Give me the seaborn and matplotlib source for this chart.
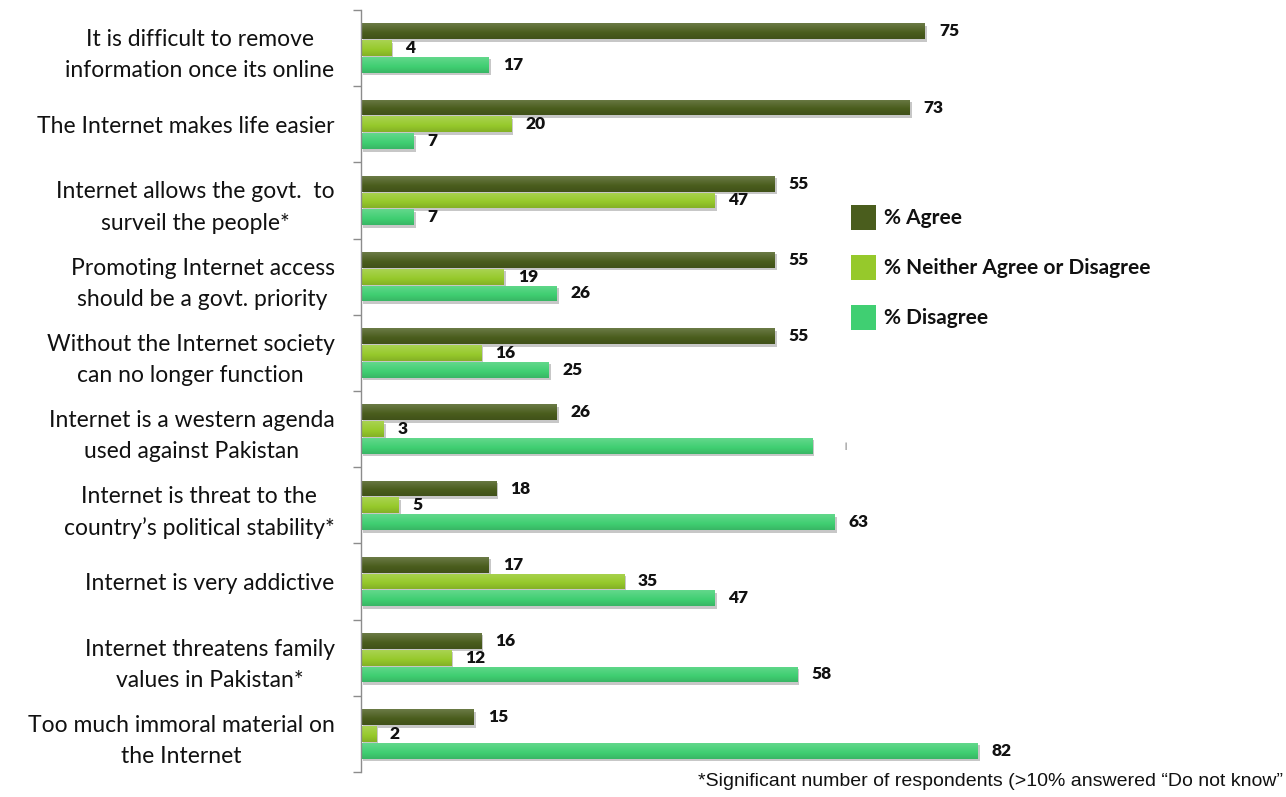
import matplotlib
matplotlib.use("Agg")
import matplotlib.pyplot as plt
import matplotlib.patheffects as pe
from matplotlib import font_manager
from matplotlib.colors import to_rgb
from matplotlib.patches import Rectangle
import numpy as np
import seaborn as sns
import pandas as pd

statements = [
    "It is difficult to remove\ninformation once its online",
    "The Internet makes life easier",
    "Internet allows the govt.  to\nsurveil the people*",
    "Promoting Internet access\nshould be a govt. priority",
    "Without the Internet society\ncan no longer function",
    "Internet is a western agenda\nused against Pakistan",
    "Internet is threat to the\ncountry\u2019s political stability*",
    "Internet is very addictive",
    "Internet threatens family\nvalues in Pakistan*",
    "Too much immoral material on\nthe Internet",
]
series_names = ["% Agree", "% Neither Agree or Disagree", "% Disagree"]
agree = [75, 73, 55, 55, 55, 26, 18, 17, 16, 15]
neither = [4, 20, 47, 19, 16, 3, 5, 35, 12, 2]
disagree = [17, 7, 7, 26, 25, 60, 63, 47, 58, 82]
# the value of the western-agenda "Disagree" bar has no printed label
disagree_labels = ["17", "7", "7", "26", "25", "", "63", "47", "58", "82"]
footnote = "*Significant number of respondents (>10% answered \u201cDo not know\u201d"

colors = ["#4a5d1d", "#96c92b", "#40cf72"]

df = pd.DataFrame({
    "statement": statements * 3,
    "series": sum([[s] * len(statements) for s in series_names], []),
    "value": agree + neither + disagree,
})

available = {f.name for f in font_manager.fontManager.ttflist}
label_font = "Lato" if "Lato" in available else "DejaVu Sans"
narrow_font = "Liberation Sans Narrow" if "Liberation Sans Narrow" in available else "Liberation Sans"

sns.set_theme(style="white")
plt.rcParams["font.family"] = [label_font, "DejaVu Sans"]

W, H = 1286, 797
fig = plt.figure(figsize=(W / 100, H / 100), dpi=100)
ax = fig.add_axes([361 / W, (H - 772) / H, 752 / W, 762 / H])

sns.barplot(data=df, y="statement", x="value", hue="series", order=statements,
            hue_order=series_names, palette=colors, orient="h", width=0.66,
            gap=0.05, ax=ax, legend=False, errorbar=None, saturation=1)


def shade(rgb, f):
    rgb = np.array(rgb)
    return rgb + (1 - rgb) * f if f > 0 else rgb * (1 + f)


shadow = [pe.SimplePatchShadow(offset=(1.5, -1.8), shadow_rgbFace="#000000", alpha=0.22), pe.Normal()]
label_sets = [[str(v) for v in agree], [str(v) for v in neither], disagree_labels]
for container, labels, col in zip(ax.containers, label_sets, colors):
    base = to_rgb(col)
    # soft vertical gradient: lighter top edge, darker bottom edge
    stops = np.linspace(0, 1, 32)
    grad = np.array([shade(base, 0.18 - 0.30 * t) if t < 0.6 else shade(base, -0.12 * (t - 0.6) / 0.4)
                     for t in stops])
    grad = np.clip(grad, 0, 1)[:, None, :]
    for patch, lab in zip(container.patches, labels):
        patch.set_linewidth(0)
        patch.set_path_effects(shadow)
        x0, y0 = patch.get_x(), patch.get_y()
        w, h = patch.get_width(), patch.get_height()
        im = ax.imshow(grad, extent=(x0, x0 + w, y0 + h, y0), aspect="auto",
                       interpolation="bilinear", zorder=patch.get_zorder() + 0.1)
        im.set_clip_path(patch)
        yc = y0 + h / 2
        if lab:
            ax.annotate(lab, (x0 + w, yc), xytext=(10, 0), textcoords="offset points",
                        ha="left", va="center", fontsize=12.5, fontweight="heavy",
                        color="#111111")
        else:
            ax.annotate("|", (x0 + w, yc), xytext=(24, 0), textcoords="offset points",
                        ha="center", va="center", fontsize=6, color="#333333")

ax.set_xlim(0, 100)
ax.set_ylim(len(statements) - 0.5, -0.5)
ax.set_xlabel("")
ax.set_ylabel("")
for side in ["top", "right", "bottom"]:
    ax.spines[side].set_visible(False)
ax.spines["left"].set_color("#8c8c8c")
ax.spines["left"].set_linewidth(1)
ax.set_xticks([])
ax.tick_params(axis="y", which="major", length=0, pad=19, labelsize=16.5, labelcolor="#111111")
ax.set_yticks(range(len(statements)))
ax.set_yticklabels(statements, multialignment="center", linespacing=1.6)
ax.set_yticks([k - 0.5 for k in range(len(statements) + 1)], minor=True)
ax.tick_params(axis="y", which="minor", length=6, color="#8c8c8c", width=1, left=True)

# legend: colour squares with bold captions
for i, (name, col) in enumerate(zip(series_names, colors)):
    top = 205 + 50 * i
    fig.add_artist(Rectangle((851 / W, 1 - (top + 25) / H), 25 / W, 25 / H,
                             transform=fig.transFigure, facecolor=col, edgecolor="none"))
    fig.text(884 / W, 1 - (top + 12.5) / H, name, ha="left", va="center",
             fontsize=15, fontweight="bold", color="#111111")

fig.text(1283 / W, 1 - 781 / H, footnote, ha="right", va="center",
         fontsize=14, family=[narrow_font, "DejaVu Sans"], color="#111111")

fig.savefig("out.png", dpi=100, facecolor="white")
